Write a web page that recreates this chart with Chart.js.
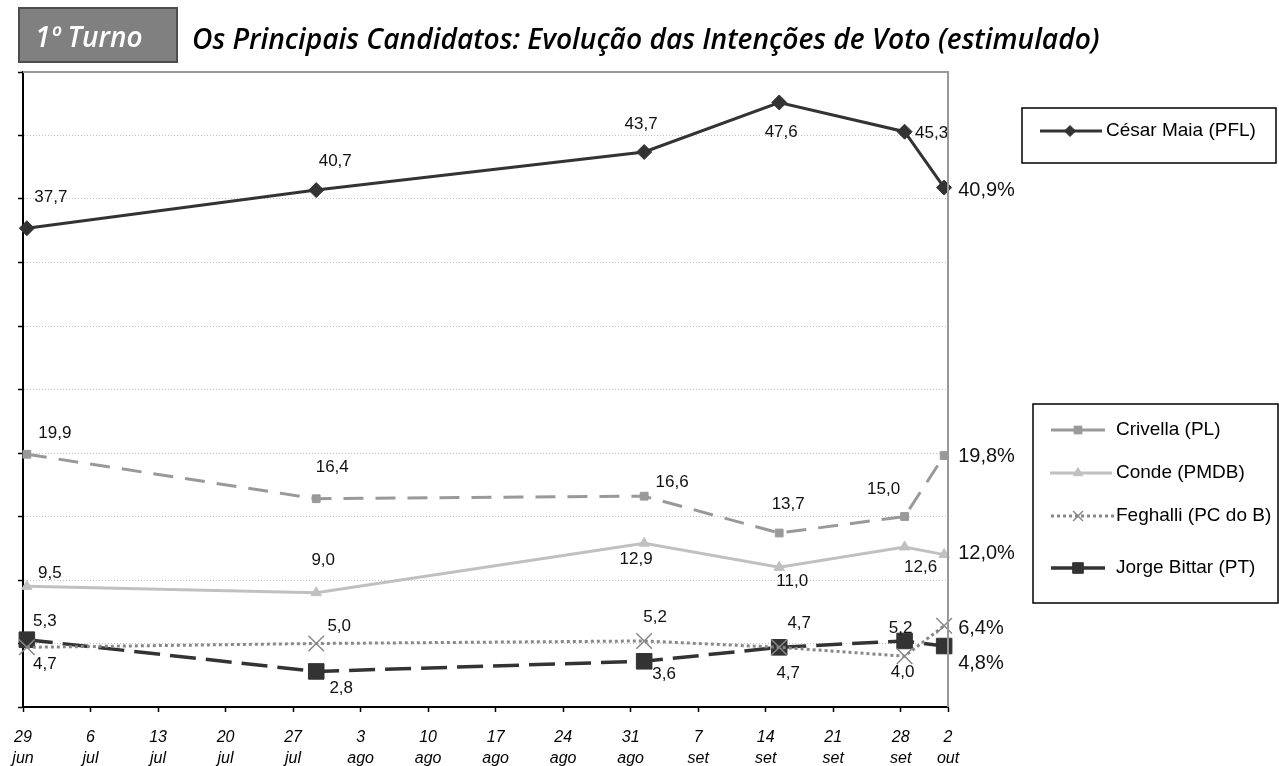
<!DOCTYPE html>
<html>
<head>
<meta charset="utf-8">
<script src="https://cdn.jsdelivr.net/npm/chart.js@4/dist/chart.umd.min.js"></script>
<style>
  html, body { margin: 0; padding: 0; background: #fff; }
  #wrap { width: 1279px; height: 766px; position: relative; }
</style>
</head>
<body>
<div id="wrap"><canvas id="turnoChart" width="1279" height="766"></canvas></div>
<script>
// days counted from 29 jun
const SURVEY_DAYS = [0.4, 30.4, 64.4, 78.4, 91.4, 95.5];
const CESAR = [37.7, 40.7, 43.7, 47.6, 45.3, 40.9];
const CRIVELLA = [19.9, 16.4, 16.6, 13.7, 15.0, 19.8];
const CONDE = [9.5, 9.0, 12.9, 11.0, 12.6, 12.0];
const FEGHALLI = [4.7, 5.0, 5.2, 4.7, 4.0, 6.4];
const BITTAR = [5.3, 2.8, 3.6, 4.7, 5.2, 4.8];

const TICK_DAYS = [0, 7, 14, 21, 28, 35, 42, 49, 56, 63, 70, 77, 84, 91, 95.9];
const TICK_LABELS = [
  ["29", "jun"], ["6", "jul"], ["13", "jul"], ["20", "jul"], ["27", "jul"],
  ["3", "ago"], ["10", "ago"], ["17", "ago"], ["24", "ago"], ["31", "ago"],
  ["7", "set"], ["14", "set"], ["21", "set"], ["28", "set"], ["2", "out"]
];

const TITLE_TAG = "1º Turno";
const TITLE_TEXT = "Os Principais Candidatos: Evolução das Intenções de Voto (estimulado)";

const toPoints = vals => vals.map((v, i) => ({ x: SURVEY_DAYS[i], y: v }));
const fmt = v => v.toFixed(1).replace(".", ",");

const series = [
  { label: "César Maia (PFL)", data: CESAR, color: "#333333", width: 3, dash: [], style: "rectRot", radius: 7.5, legendRadius: 5.5 },
  { label: "Crivella (PL)", data: CRIVELLA, color: "#999999", width: 3, dash: [20, 12], style: "rect", radius: 5.5, legendRadius: 5.5 },
  { label: "Conde (PMDB)", data: CONDE, color: "#c0c0c0", width: 3, dash: [], style: "triangle", radius: 6, legendRadius: 5.5 },
  { label: "Feghalli (PC do B)", data: FEGHALLI, color: "#888888", width: 3, dash: [3, 3], style: "crossRot", radius: 11, legendRadius: 7 },
  { label: "Jorge Bittar (PT)", data: BITTAR, color: "#333333", width: 3.5, dash: [26, 10], style: "rect", radius: 11, legendRadius: 7.5 }
];

// label offsets (dx, dy) relative to each point
const labelOffsets = [
  [[24, -31], [19, -29], [-3, -28], [2, 30], [27, 2], [14, 3]],
  [[28, -21], [16, -31], [28, -14], [9, -29], [-21, -27], [14, 1]],
  [[23, -13], [7, -32], [-8, 16], [13, 14], [16, 20], [14, -1]],
  [[18, 17], [23, -17], [11, -24], [20, -24], [-2, 16], [14, 3]],
  [[18, -18], [25, 17], [20, 13], [9, 26], [-4, -13], [14, 17]]
];

const pointLabels = {
  id: "pointLabels",
  afterDatasetsDraw(chart) {
    const ctx = chart.ctx;
    ctx.save();
    ctx.fillStyle = "#111";
    ctx.textBaseline = "middle";
    chart.data.datasets.forEach((ds, di) => {
      const meta = chart.getDatasetMeta(di);
      meta.data.forEach((pt, i) => {
        const off = labelOffsets[di][i];
        const last = i === meta.data.length - 1;
        if (last) {
          ctx.font = "20px 'Liberation Sans', Arial, sans-serif";
          ctx.textAlign = "left";
          ctx.fillText(fmt(ds.data[i].y) + "%", pt.x + off[0], pt.y + off[1]);
        } else {
          ctx.font = "17px 'Liberation Sans', Arial, sans-serif";
          ctx.textAlign = "center";
          ctx.fillText(fmt(ds.data[i].y), pt.x + off[0], pt.y + off[1]);
        }
      });
    });
    ctx.restore();
  }
};

const frame = {
  id: "frame",
  beforeDraw(chart) {
    const ctx = chart.ctx;
    ctx.save();
    // title tag box
    ctx.fillStyle = "#808080";
    ctx.fillRect(19, 8, 158, 54);
    ctx.strokeStyle = "#4d4d4d";
    ctx.lineWidth = 2;
    ctx.strokeRect(19, 8, 158, 54);
    ctx.fillStyle = "#ffffff";
    ctx.textBaseline = "alphabetic";
    ctx.textAlign = "left";
    ctx.font = "italic 600 28px 'Open Sans', sans-serif";
    ctx.fillText(TITLE_TAG, 35, 47);
    // main title, fitted to its width in the reference
    ctx.fillStyle = "#000000";
    ctx.font = "italic 600 25px 'Open Sans', sans-serif";
    const w = ctx.measureText(TITLE_TEXT).width;
    const size = 25 * 908 / w;
    ctx.font = "italic 600 " + size.toFixed(2) + "px 'Open Sans', sans-serif";
    ctx.fillText(TITLE_TEXT, 192, 49);
    ctx.restore();
  },
  afterDraw(chart) {
    const ctx = chart.ctx;
    const a = chart.chartArea;
    ctx.save();
    ctx.strokeStyle = "#999999";
    ctx.lineWidth = 2;
    ctx.beginPath();
    ctx.moveTo(a.left, a.top);
    ctx.lineTo(a.right, a.top);
    ctx.lineTo(a.right, a.bottom);
    ctx.stroke();

    // legends
    const drawPoint = Chart.helpers.drawPoint;
    const sample = (s, x1, x2, mx, y) => {
      ctx.strokeStyle = s.color;
      ctx.fillStyle = s.color;
      ctx.lineWidth = s.width;
      ctx.setLineDash(s.dash.length && s.dash[0] < 5 ? [3, 3] : []);
      ctx.beginPath();
      ctx.moveTo(x1, y);
      ctx.lineTo(x2, y);
      ctx.stroke();
      ctx.setLineDash([]);
      ctx.lineWidth = s.style === "crossRot" ? 1.5 : 1;
      drawPoint(ctx, { pointStyle: s.style, radius: s.legendRadius, rotation: 0, borderWidth: ctx.lineWidth }, mx, y);
    };
    ctx.strokeStyle = "#000";
    ctx.lineWidth = 1.5;
    ctx.strokeRect(1022, 108, 254, 55);
    ctx.strokeRect(1033, 404, 245, 199);
    ctx.textBaseline = "middle";
    ctx.textAlign = "left";
    const legendFont = "19px 'Liberation Sans', Arial, sans-serif";
    sample(series[0], 1040, 1102, 1070, 131);
    ctx.fillStyle = "#000";
    ctx.font = legendFont;
    ctx.fillText(series[0].label, 1106, 131);
    const rows = [430, 473, 516, 568];
    const spans = [[1051, 1105], [1050, 1112], [1051, 1115], [1051, 1105]];
    for (let k = 1; k < 5; k++) {
      const y = rows[k - 1];
      sample(series[k], spans[k - 1][0], spans[k - 1][1], 1078, y);
      ctx.fillStyle = "#000";
      ctx.font = legendFont;
      ctx.fillText(series[k].label, 1116, y);
    }
    ctx.restore();
  }
};

(function() {
  const ctx = document.getElementById("turnoChart").getContext("2d");
  window.turnoChart = new Chart(ctx, {
    type: "line",
    data: {
      datasets: series.map(s => ({
        label: s.label,
        data: toPoints(s.data),
        borderColor: s.color,
        backgroundColor: s.color,
        borderWidth: s.width,
        borderDash: s.dash,
        pointStyle: s.style,
        pointRadius: s.radius,
        pointBorderWidth: s.style === "crossRot" ? 1.5 : 1,
        pointBorderColor: s.color,
        pointBackgroundColor: s.color,
        tension: 0,
        clip: false
      }))
    },
    options: {
      responsive: false,
      animation: false,
      layout: { padding: { left: 18, top: 72, right: 331, bottom: 0 } },
      plugins: {
        legend: { display: false },
        tooltip: { enabled: false }
      },
      scales: {
        x: {
          type: "linear",
          min: 0,
          max: 95.9,
          afterBuildTicks: scale => {
            scale.ticks = TICK_DAYS.map(v => ({ value: v }));
          },
          afterFit: scale => {
            scale.height = 59;
            scale.paddingLeft = 0;
            scale.paddingRight = 0;
          },
          ticks: {
            autoSkip: false,
            maxRotation: 0,
            padding: 15,
            color: "#000",
            font: { family: "'Liberation Sans', Arial, sans-serif", size: 16, style: "italic", lineHeight: 1.3 },
            callback: (v, i) => TICK_LABELS[i]
          },
          grid: { drawOnChartArea: false, tickLength: 5, tickColor: "#000", tickWidth: 1.5 },
          border: { color: "#000", width: 2 }
        },
        y: {
          min: 0,
          max: 50,
          afterFit: scale => { scale.width = 5; },
          ticks: { stepSize: 5, display: false },
          grid: { color: "#c4c4c4", lineWidth: 1, tickLength: 5, tickColor: "#000", tickWidth: 1.5 },
          border: { color: "#000", width: 2, dash: [1, 2] }
        }
      }
    },
    plugins: [frame, pointLabels]
  });
})();
</script>
</body>
</html>
